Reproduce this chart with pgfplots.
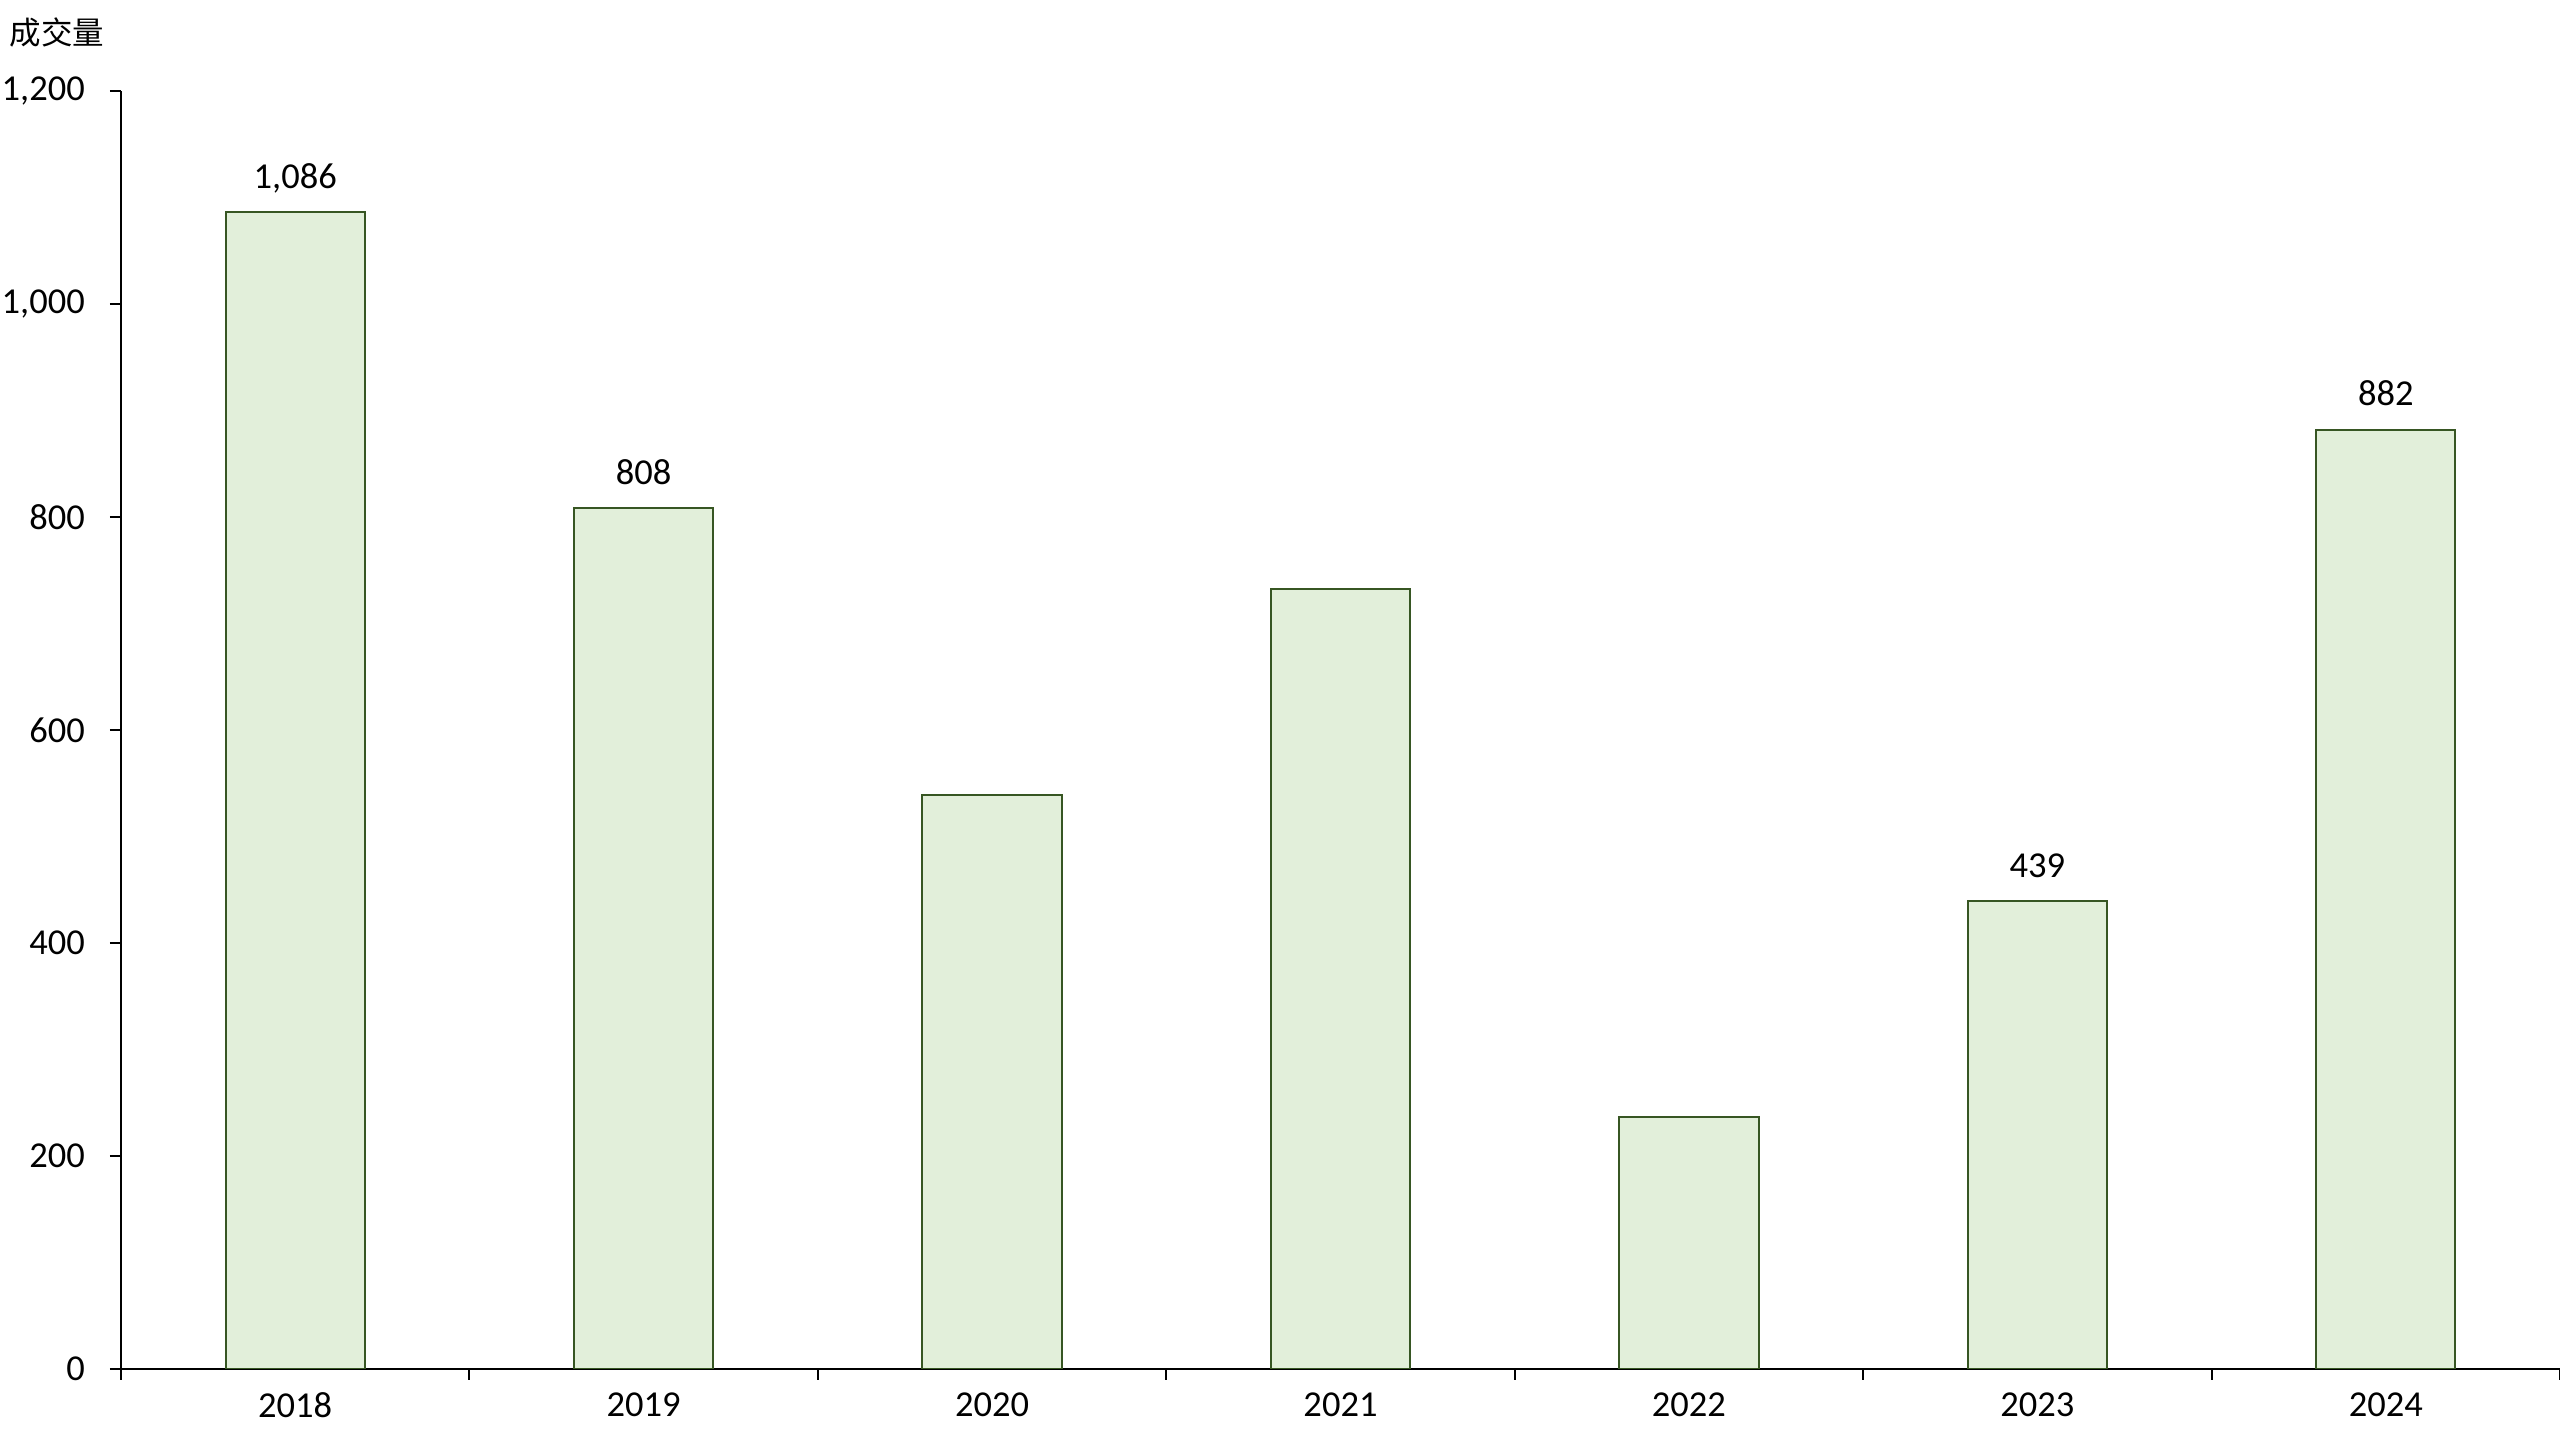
\documentclass[border=0pt]{standalone}
\usepackage{pgfplots}
\pgfplotsset{compat=1.18}
\usepackage{fontspec}
\setmainfont{Carlito}
\newfontfamily\cjk{Noto Sans CJK SC}
\definecolor{barfill}{HTML}{E2EFDA}
\definecolor{baredge}{HTML}{375623}

\begin{document}
\begin{tikzpicture}
\begin{axis}[
  scale only axis, width=487.8pt, height=255.6pt,
  xmin=-0.5, xmax=6.5, ymin=0, ymax=1200,
  axis lines=left, axis line style={-, line width=0.4pt},
  xtick={-0.5,0.5,...,6.5}, x tick label as interval,
  xticklabels={2018,2019,2020,2021,2022,2023,2024},
  ytick={0,200,...,1200},
  tick align=outside, major tick length=2.2pt,
  tick style={black, line width=0.4pt},
  /pgf/number format/1000 sep={,},
  /pgf/number format/assume math mode=true,
  tick label style={font=\fontsize{7.3}{8.5}\selectfont},
  yticklabel style={xshift=-1.5pt},
  xticklabel style={yshift=1pt},
  ylabel={\cjk 成交量},
  ylabel style={rotate=-90, anchor=west, at={(axis description cs:0,1)},
    xshift=-22.4pt, yshift=11.6pt, inner sep=0pt, font=\fontsize{6.3}{7}\selectfont},
  ybar, bar width=0.4,
]
\addplot[fill=barfill, draw=baredge, line width=0.4pt,
  point meta=explicit symbolic, nodes near coords,
  nodes near coords style={anchor=base, inner sep=0pt, yshift=4.8pt,
    font=\fontsize{7.3}{8.5}\selectfont, text=black}]
  coordinates {(0,1086) [{1,086}] (1,808) [808] (2,539) [{}] (3,732) [{}]
               (4,237) [{}] (5,439) [439] (6,882) [882]};
\end{axis}
\pgfresetboundingbox
\useasboundingbox ([xshift=-24.2pt, yshift=-14.2pt]current axis.south west) rectangle ++(512pt,288pt);
\end{tikzpicture}
\end{document}
